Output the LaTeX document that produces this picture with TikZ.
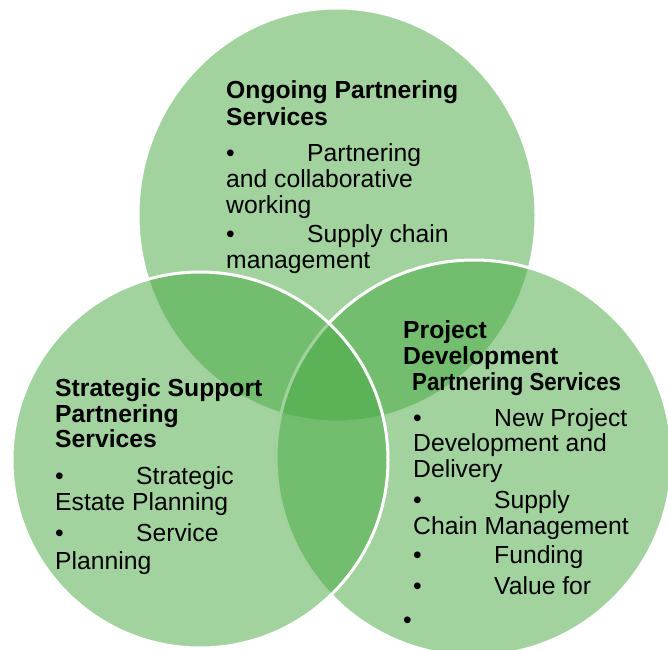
\documentclass[tikz,border=0pt]{standalone}
\usepackage{fontspec}
\setmainfont{Liberation Sans}
\usetikzlibrary{shapes.geometric}
\definecolor{Verde}{RGB}{69,167,63}
\newcommand{\vineta}{\makebox[81pt][l]{\textbullet}}

\begin{document}
\begin{tikzpicture}[x=1pt,y=1pt,
    circulo/.style={fill=Verde, fill opacity=0.5, draw=white, line width=3pt, inner sep=0pt},
    texto/.style={anchor=north west, align=left, inner sep=0pt, font=\fontsize{24.7}{25}\selectfont}]
  \useasboundingbox (0,0) rectangle (668,649);
  %circulos
  \node[circulo, ellipse, minimum width=398pt, minimum height=414pt] (arriba) at (337,434) {};
  \node[circulo, circle, minimum size=396pt] (derecha) at (474,191) {};
  \node[circulo, circle, minimum size=376pt] (izquierda) at (200,189) {};
  %textos
  \node[texto] (ongoing) at (226,569) {\textbf{Ongoing Partnering}\\[2pt]
    \textbf{Services}\\[11pt]
    \vineta Partnering\\[1pt] and collaborative\\[1pt] working\\[4pt]
    \vineta Supply chain\\[1pt] management};
  \node[texto] (strategic) at (55,271) {\textbf{Strategic Support}\\[1pt]
    \textbf{Partnering}\\ \textbf{Services}\\[12pt]
    \vineta Strategic\\[1pt] Estate Planning\\[6pt]
    \vineta Service\\[3pt] Planning};
  \node[texto] (project) at (403,329) {\textbf{Project}\\[1pt] \textbf{Development}\\[1pt]
    \hspace*{9pt}\textbf{\scalebox{0.9}[1]{Partnering Services}}\\[11pt]
    \hspace*{10pt}\vineta New Project\\ \hspace*{10pt}Development and\\[1pt] \hspace*{10pt}Delivery\\[6pt]
    \hspace*{10pt}\vineta Supply\\[1pt] \hspace*{10pt}Chain Management\\[4pt]
    \hspace*{10pt}\vineta Funding\\[6pt]
    \hspace*{10pt}\vineta Value for\\[9pt]
    \textbullet};
\end{tikzpicture}
\end{document}
